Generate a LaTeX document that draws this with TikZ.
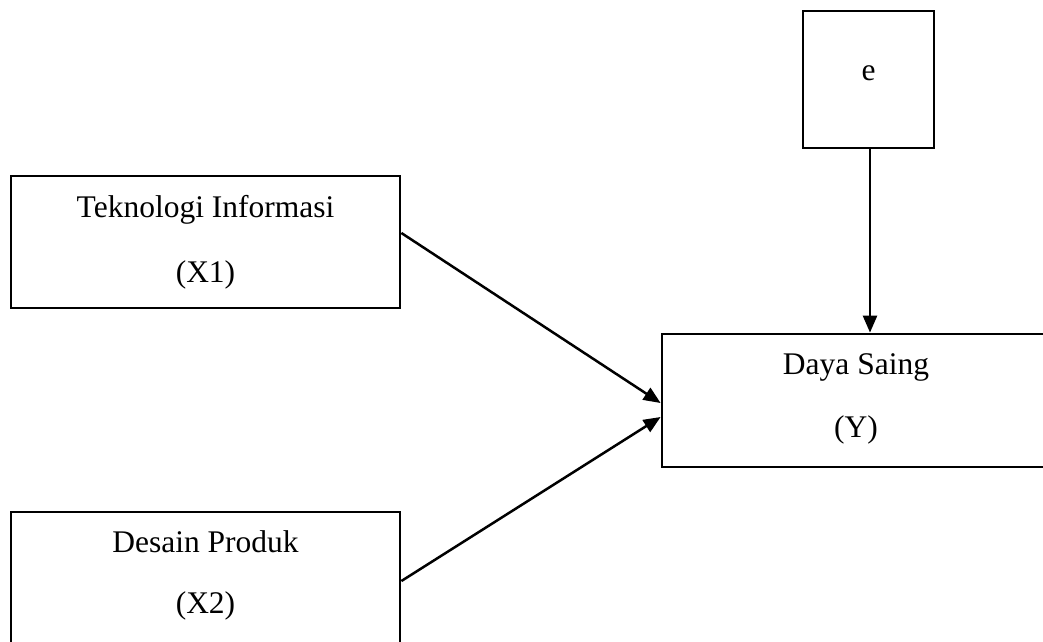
\documentclass[tikz,border=0pt]{standalone}
\usepackage{fontspec}
\setmainfont{Liberation Serif}
\usetikzlibrary{arrows.meta}
\begin{document}
\begin{tikzpicture}[x=1pt,y=-1pt,
  box/.style={draw=black, line width=2.8pt, rectangle, inner sep=0pt},
  lbl/.style={anchor=base, inner sep=0pt, font=\fontsize{31.5}{38}\selectfont},
  conn/.style={line width=2.5pt, -{Triangle[length=17pt,width=14pt]}}]
\clip (0,0) rectangle (1043,641);
\fill[white] (0,0) rectangle (1043,641);
% boxes
\node[box, minimum width=389pt, minimum height=132pt] (x1) at (205.5,242) {};
\node[box, minimum width=389pt, minimum height=133pt] (x2) at (205.5,578.5) {};
\node[box, minimum width=388pt, minimum height=133pt] (y) at (856,400.5) {};
\node[box, minimum width=131pt, minimum height=137pt] (e) at (868.5,79.5) {};
% labels
\node[lbl] (t1a) at (205.5,217) {Teknologi Informasi};
\node[lbl] (t1b) at (205.5,282) {(X1)};
\node[lbl] (t2a) at (205.5,552) {Desain Produk};
\node[lbl] (t2b) at (205.5,613) {(X2)};
\node[lbl] (tya) at (856,374) {Daya Saing};
\node[lbl] (tyb) at (856,437) {(Y)};
\node[lbl] (te) at (868.5,80) {e};
% connectors
\coordinate (ys) at (870,400);
\draw[conn] ([yshift=9pt]x1.east) -- ([yshift=-2.5pt]y.west);
\draw[conn] ([yshift=-2.5pt]x2.east) -- ([yshift=-16.5pt]y.west);
\draw[conn] (e.south -| ys) -- (y.north -| ys);
\end{tikzpicture}
\end{document}
